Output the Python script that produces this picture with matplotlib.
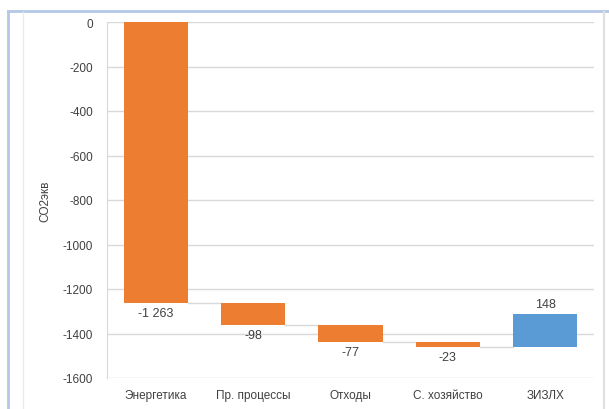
import matplotlib.pyplot as plt
from matplotlib.lines import Line2D
import numpy as np

categories = ['Энергетика', 'Пр. процессы', 'Отходы', 'С. хозяйство', 'ЗИЗЛХ']
changes = [-1263, -98, -77, -23, 148]
labels = ['-1 263', '-98', '-77', '-23', '148']

orange = '#ED7D31'
blue = '#5B9BD5'
grid_c = '#D9D9D9'
text_c = '#404040'

plt.rcParams['font.family'] = ['Liberation Sans', 'DejaVu Sans']
plt.rcParams['axes.unicode_minus'] = False

fig = plt.figure(figsize=(6.09, 4.10), dpi=100)
ax = fig.add_axes([107 / 609, 1 - 379 / 410, 487 / 609, 356 / 410])

x = np.arange(len(categories))
ends = np.cumsum(changes)
starts = ends - np.array(changes)
width = 0.66

for i, (s, e, d) in enumerate(zip(starts, ends, changes)):
    color = blue if d > 0 else orange
    ax.bar(i, e - s, bottom=s, width=width, color=color, zorder=3)
    if d > 0:
        ax.annotate(labels[i], (i, max(s, e)), xytext=(0, 3), textcoords='offset points',
                    ha='center', va='bottom', fontsize=9, color=text_c)
    else:
        ax.annotate(labels[i], (i, min(s, e)), xytext=(0, -3), textcoords='offset points',
                    ha='center', va='top', fontsize=9, color=text_c)

# connectors between bars
for i in range(len(categories) - 1):
    ax.plot([i + width / 2, i + 1 - width / 2], [ends[i], ends[i]],
            color=grid_c, lw=1, zorder=2)

ax.set_xlim(-0.5, len(categories) - 0.5)
ax.set_ylim(-1600, 0)
ax.set_yticks(np.arange(-1600, 1, 200))
ax.set_xticks(x)
ax.set_xticklabels(categories)
ax.tick_params(axis='both', length=0, labelsize=8.5, colors=text_c)
ax.tick_params(axis='x', pad=8)
ax.tick_params(axis='y', pad=10)
ax.yaxis.grid(True, color=grid_c, lw=1, zorder=0)
for side in ['top', 'right', 'bottom']:
    ax.spines[side].set_visible(False)
ax.spines['left'].set_color(grid_c)
ax.set_ylabel('CO2экв', fontsize=8.5, color=text_c, labelpad=8)

# outer frame lines
fig.add_artist(Line2D([8 / 609, 1], [1 - 12 / 410] * 2, color='#B4C7E7', lw=2))
fig.add_artist(Line2D([8 / 609] * 2, [0, 1 - 12 / 410], color='#B4C7E7', lw=2))
fig.add_artist(Line2D([23 / 609] * 2, [0, 1 - 13 / 410], color='#EBEBEB', lw=1))
fig.add_artist(Line2D([604 / 609] * 2, [0, 1 - 13 / 410], color='#E0E0E0', lw=1.5))

fig.savefig('out.png', dpi=100)
